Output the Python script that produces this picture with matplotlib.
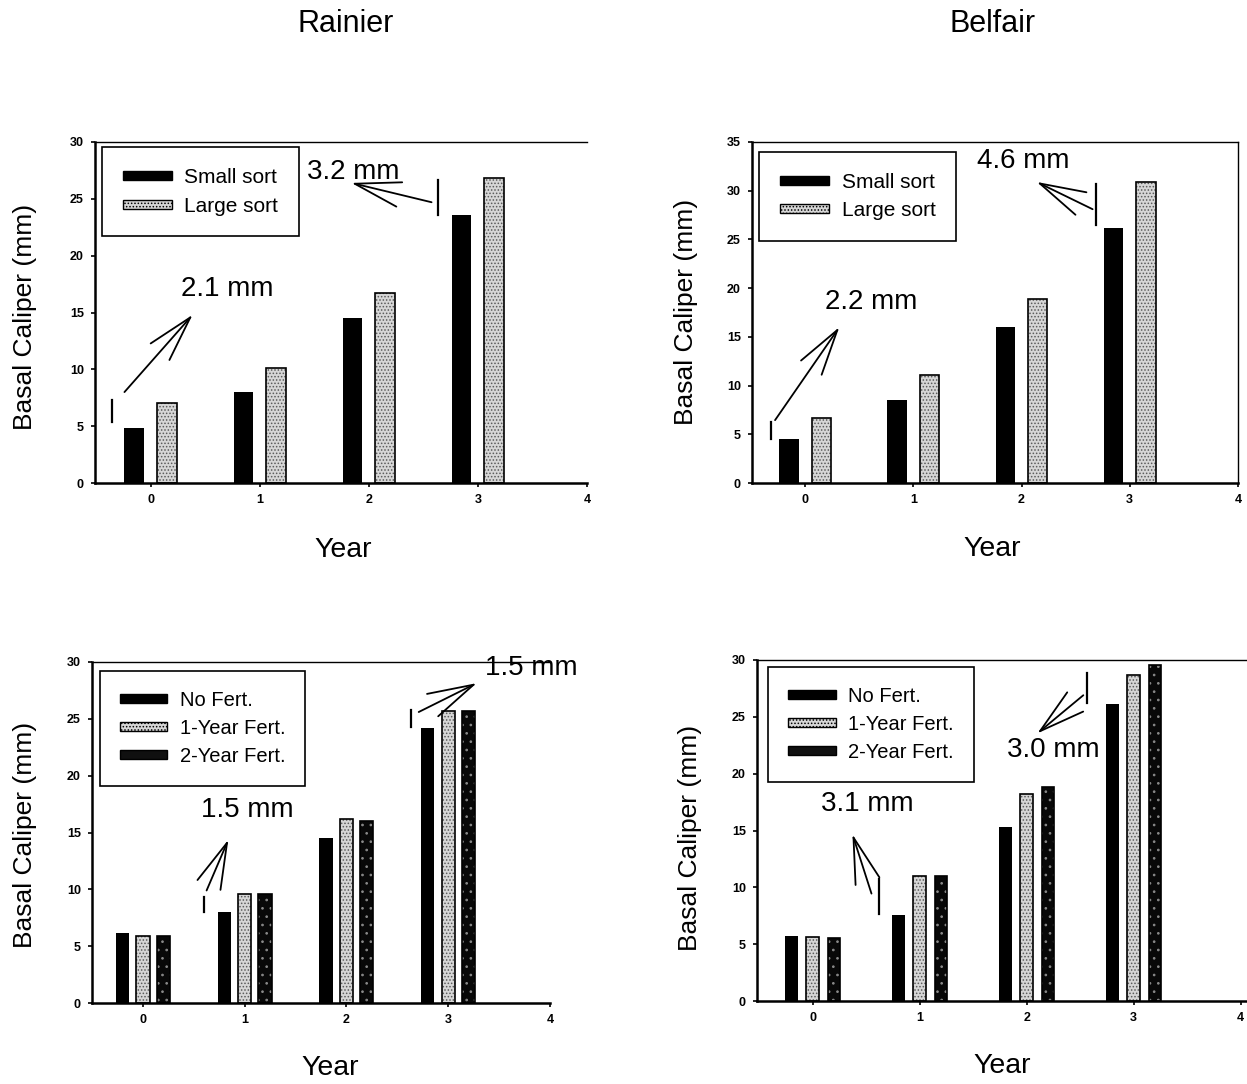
import matplotlib
matplotlib.use("Agg")
import matplotlib.pyplot as plt
from matplotlib.patches import Patch
import numpy as np

plt.rcParams['font.family'] = ['Liberation Sans', 'DejaVu Sans']
plt.rcParams['hatch.linewidth'] = 0.7

# data
years = [0, 1, 2, 3]

rainier_small = [4.8, 8.0, 14.5, 23.6]
rainier_large = [7.0, 10.1, 16.7, 26.8]
belfair_small = [4.5, 8.5, 16.0, 26.2]
belfair_large = [6.7, 11.1, 18.9, 30.9]

rainier_nofert = [6.2, 8.0, 14.5, 24.2]
rainier_fert1 = [5.9, 9.6, 16.2, 25.7]
rainier_fert2 = [5.9, 9.6, 16.0, 25.7]
belfair_nofert = [5.7, 7.6, 15.3, 26.1]
belfair_fert1 = [5.6, 11.0, 18.2, 28.7]
belfair_fert2 = [5.5, 11.0, 18.8, 29.6]

sort_labels = ["Small sort", "Large sort"]
fert_labels = ["No Fert.", "1-Year Fert.", "2-Year Fert."]
sites = ["Rainier", "Belfair"]

# annotations: text, text pos, arrow tail, arrow head, bracket x, bracket y0, y1
notes_rs = [("2.1 mm", (0.70, 17.1), (-0.24, 8.0), (0.385, 14.8), -0.35, 5.4, 7.3),
            ("3.2 mm", (1.86, 27.4), (2.575, 24.7), (1.84, 26.4), 2.63, 23.6, 26.65)]
notes_bs = [("2.2 mm", (0.61, 18.55), (-0.277, 6.45), (0.317, 16.0), -0.317, 4.56, 6.26),
            ("4.6 mm", (2.02, 33.0), (2.657, 28.1), (2.14, 30.9), 2.69, 26.45, 30.73)]
notes_rf = [("1.5 mm", (1.03, 16.95), (0.626, 9.9), (0.84, 14.37), 0.60, 8.0, 9.32),
            ("1.5 mm", (3.82, 29.5), (2.71, 25.6), (3.28, 28.14), 2.63, 24.27, 25.74)]
notes_bf = [("3.1 mm", (0.515, 17.3), (0.55, 9.45), (0.372, 14.67), 0.62, 7.69, 10.77),
            ("3.0 mm", (2.245, 22.07), (2.53, 26.9), (2.10, 23.54), 2.565, 26.18, 28.87)]

W, H = 1247, 1084
fig = plt.figure(figsize=(W / 100, H / 100), dpi=100)


def box(l, r, t, b):
    return [l / W, 1 - b / H, (r - l) / W, (b - t) / H]


def stipple(ax, x, y, w, base, dots, hatch='.....'):
    ax.bar(x, y, w, color=base, edgecolor=dots, hatch=hatch, linewidth=0, zorder=2)
    ax.bar(x, y, w, color='none', edgecolor='black', linewidth=1.2, zorder=3)


def style(ax, ymax, xlim):
    ax.set_xlim(*xlim)
    ax.set_ylim(0, ymax)
    ax.set_xticks([0, 1, 2, 3, 4])
    ax.set_yticks(np.arange(0, ymax + 1, 5))
    ax.tick_params(direction='out', length=3, width=1.2, labelsize=9, pad=5)
    for lab in ax.get_xticklabels() + ax.get_yticklabels():
        lab.set_fontweight('bold')
    for s in ax.spines.values():
        s.set_linewidth(1.0)
    ax.spines['left'].set_linewidth(1.8)
    ax.spines['bottom'].set_linewidth(1.8)


def annotate(ax, notes):
    for txt, tpos, tail, head, bx, by0, by1 in notes:
        ax.annotate('', xy=head, xytext=tail,
                    arrowprops=dict(arrowstyle='->, head_length=3.3, head_width=0.9',
                                    mutation_scale=10, lw=1.3, color='black',
                                    shrinkA=0, shrinkB=0), annotation_clip=False)
        ax.plot([bx, bx], [by0, by1], color='black', lw=1.6, clip_on=False)
        ax.text(tpos[0], tpos[1], txt, fontsize=20, ha='center', va='center', clip_on=False)


def legend(ax, handles, labels, anchor, fs):
    leg = ax.legend(handles, labels, loc='upper left', bbox_to_anchor=anchor,
                    borderaxespad=0, fontsize=fs, fancybox=False, edgecolor='black',
                    framealpha=1, handlelength=2.35, handleheight=0.3,
                    handletextpad=0.6, borderpad=1.0, labelspacing=0.45)
    leg.get_frame().set_linewidth(1.2)


x = np.array(years)

# Rainier, sort
ax1 = fig.add_axes(box(95, 587, 142, 483))
ax1.bar(x - 0.15, rainier_small, 0.18, color='black', zorder=3)
stipple(ax1, x + 0.15, rainier_large, 0.18, '#d6d6d6', '#5a5a5a')
style(ax1, 30, (-0.51, 4.0))
ax1.spines['right'].set_visible(False)
annotate(ax1, notes_rs)

# Belfair, sort
ax2 = fig.add_axes(box(752, 1238, 142, 483))
ax2.bar(x - 0.15, belfair_small, 0.18, color='black', zorder=3)
stipple(ax2, x + 0.15, belfair_large, 0.18, '#d6d6d6', '#5a5a5a')
style(ax2, 35, (-0.49, 4.0))
annotate(ax2, notes_bs)

# Rainier, fertilizer
ax3 = fig.add_axes(box(92, 550, 662, 1003))
ax3.bar(x - 0.2, rainier_nofert, 0.13, color='black', zorder=3)
stipple(ax3, x, rainier_fert1, 0.13, '#d6d6d6', '#5a5a5a')
stipple(ax3, x + 0.2, rainier_fert2, 0.13, '#080808', '#8a8a8a', '..')
style(ax3, 30, (-0.5, 4.0))
ax3.spines['right'].set_visible(False)
annotate(ax3, notes_rf)

# Belfair, fertilizer
ax4 = fig.add_axes(box(757, 1247, 660, 1001))
ax4.bar(x - 0.2, belfair_nofert, 0.12, color='black', zorder=3)
stipple(ax4, x, belfair_fert1, 0.12, '#d6d6d6', '#5a5a5a')
stipple(ax4, x + 0.2, belfair_fert2, 0.12, '#080808', '#8a8a8a', '..')
style(ax4, 30, (-0.52, 4.06))
ax4.spines['right'].set_visible(False)
annotate(ax4, notes_bf)

# legends
solid = Patch(facecolor='black', edgecolor='black')
light = Patch(facecolor='#d6d6d6', edgecolor='black', hatch='.....', linewidth=1.0)
dark = Patch(facecolor='#101010', edgecolor='black', linewidth=1.0)
legend(ax1, [solid, light], sort_labels, (0.014, 0.984), 15)
legend(ax2, [solid, light], sort_labels, (0.015, 0.971), 15)
legend(ax3, [solid, light, dark], fert_labels, (0.0175, 0.974), 14.5)
legend(ax4, [solid, light, dark], fert_labels, (0.023, 0.98), 14.5)

# titles and axis labels
fig.text(346 / W, 1 - 24 / H, sites[0], fontsize=22, ha='center', va='center')
fig.text(993 / W, 1 - 24 / H, sites[1], fontsize=22, ha='center', va='center')
for xc, yc in [(343, 550), (992, 549), (330, 1068), (1002, 1066)]:
    fig.text(xc / W, 1 - yc / H, "Year", fontsize=20.5, ha='center', va='center')
for xc, yc in [(25, 317), (686, 312), (25, 835), (690, 838)]:
    fig.text(xc / W, 1 - yc / H, "Basal Caliper (mm)", fontsize=19,
             ha='center', va='center', rotation=90)

fig.savefig("out.png", dpi=100)
